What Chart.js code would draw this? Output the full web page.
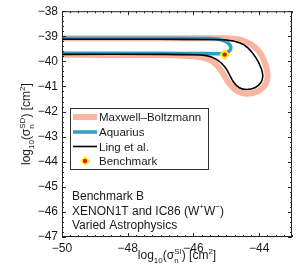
<!DOCTYPE html>
<html>
<head>
<meta charset="utf-8">
<script src="https://cdn.jsdelivr.net/npm/chart.js@4.4.1/dist/chart.umd.min.js"></script>
<style>
  html, body { margin: 0; padding: 0; background: #fff; }
</style>
</head>
<body>
<canvas id="chart" width="299" height="268"></canvas>
<script>
// Benchmark B — SD vs SI cross-section contours

const FONT = '"Liberation Sans", Arial, Helvetica, sans-serif';
Chart.defaults.font.family = FONT;
Chart.defaults.font.size = 11;
Chart.defaults.color = '#1a1a1a';

const xRange = [-50, -43];
const yRange = [-47, -38];
const xTickValues = [-50, -48, -46, -44];
const yTickValues = [-38, -39, -40, -41, -42, -43, -44, -45, -46, -47];

// Maxwell–Boltzmann contour (thick salmon)
const mbX = [-50, -47, -45.6, -45.0, -44.55, -44.25, -43.98, -43.8, -43.74, -43.8, -44.02, -44.37, -44.65, -44.9, -45.15, -45.42, -45.75, -46.3, -47, -50];
const mbY = [-39.08, -39.08, -39.08, -39.08, -39.14, -39.32, -39.65, -40.15, -40.55, -40.9, -41.18, -41.29, -41.2, -40.9, -40.38, -40.0, -39.84, -39.78, -39.75, -39.74];

// Aquarius contour (teal)
const aqX = [-50, -47, -45.6, -45.2, -45.0, -44.9, -44.86, -44.9, -45.02, -45.25, -45.6, -47, -50];
const aqY = [-39.08, -39.08, -39.09, -39.13, -39.22, -39.33, -39.46, -39.58, -39.67, -39.7, -39.69, -39.68, -39.68];

// Ling et al. contour (black)
const lingX = [-50, -47, -45.6, -45.0, -44.6, -44.35, -44.1, -43.93, -43.89, -43.95, -44.13, -44.38, -44.6, -44.78, -45.04, -45.3, -45.6, -46.2, -47, -50];
const lingY = [-39.12, -39.12, -39.13, -39.15, -39.26, -39.45, -39.85, -40.3, -40.6, -40.85, -41.05, -41.12, -41.05, -40.82, -40.22, -39.92, -39.77, -39.73, -39.72, -39.72];

// Benchmark point
const benchX = [-45.05];
const benchY = [-39.73];

const legendLabels = ['Maxwell\u2013Boltzmann', 'Aquarius', 'Ling et al.', 'Benchmark'];
const noteLines = ['Benchmark B', 'XENON1T and IC86 (W+W\u2212)', 'Varied Astrophysics'];

const pts = (xs, ys) => xs.map((x, i) => ({ x: x, y: ys[i] }));
const minus = v => String(v).replace('-', '\u2212');

const SALMON = '#f9b5a0';
const TEAL = '#2c9fc2';
const BLACK = '#000000';

// draw text made of pieces: [text, kind] kind: 0 normal, 1 sub, 2 sup, 3 stacked [sub, sup]
function richWidth(ctx, parts, size) {
  let w = 0;
  parts.forEach(p => {
    if (p[1] === 0) { ctx.font = size + 'px ' + FONT; w += ctx.measureText(p[0]).width; }
    else if (p[1] === 3) {
      ctx.font = Math.round(size * 0.7) + 'px ' + FONT;
      w += Math.max(ctx.measureText(p[0][0]).width, ctx.measureText(p[0][1]).width);
    } else { ctx.font = Math.round(size * 0.7) + 'px ' + FONT; w += ctx.measureText(p[0]).width; }
  });
  return w;
}
function drawRich(ctx, parts, x, y, size) {
  const small = Math.round(size * 0.7);
  parts.forEach(p => {
    if (p[1] === 0) {
      ctx.font = size + 'px ' + FONT; ctx.fillText(p[0], x, y); x += ctx.measureText(p[0]).width;
    } else if (p[1] === 1) {
      ctx.font = small + 'px ' + FONT; ctx.fillText(p[0], x, y + size * 0.3); x += ctx.measureText(p[0]).width;
    } else if (p[1] === 2) {
      ctx.font = small + 'px ' + FONT; ctx.fillText(p[0], x, y - size * 0.42); x += ctx.measureText(p[0]).width;
    } else {
      ctx.font = small + 'px ' + FONT;
      ctx.fillText(p[0][0], x, y + size * 0.3);
      ctx.fillText(p[0][1], x, y - size * 0.45);
      x += Math.max(ctx.measureText(p[0][0]).width, ctx.measureText(p[0][1]).width);
    }
  });
}

const decorations = {
  id: 'decorations',
  afterDraw(chart) {
    const ctx = chart.ctx;
    const a = chart.chartArea;
    const xs = chart.scales.x, ys = chart.scales.y;
    ctx.save();
    ctx.textAlign = 'left';
    ctx.textBaseline = 'alphabetic';
    ctx.fillStyle = '#1a1a1a';

    // frame
    ctx.strokeStyle = '#262626';
    ctx.lineWidth = 1;
    ctx.strokeRect(a.left + 0.5, a.top + 0.5, a.right - a.left - 1, a.bottom - a.top - 1);

    // inward ticks on all sides
    ctx.beginPath();
    for (let v = xRange[0]; v <= xRange[1] + 1e-6; v += 0.25) {
      const px = Math.round(xs.getPixelForValue(v)) + 0.5;
      const major = xTickValues.some(t => Math.abs(t - v) < 1e-6);
      const len = major ? 4 : 2;
      ctx.moveTo(px, a.bottom); ctx.lineTo(px, a.bottom - len);
      ctx.moveTo(px, a.top); ctx.lineTo(px, a.top + len);
    }
    for (let v = yRange[0]; v <= yRange[1] + 1e-6; v += 0.2) {
      const py = Math.round(ys.getPixelForValue(v)) + 0.5;
      const major = yTickValues.some(t => Math.abs(t - v) < 1e-6);
      const len = major ? 4 : 2;
      ctx.moveTo(a.left, py); ctx.lineTo(a.left + len, py);
      ctx.moveTo(a.right, py); ctx.lineTo(a.right - len, py);
    }
    ctx.stroke();

    // legend box
    const lx = 70, ly = 108, lw = 138, lh = 61;
    ctx.fillStyle = '#fff';
    ctx.fillRect(lx, ly, lw, lh);
    ctx.strokeStyle = '#333';
    ctx.strokeRect(lx + 0.5, ly + 0.5, lw, lh);
    const rows = [117, 132, 146.5, 161];
    const ds = chart.data.datasets;
    const lineSets = [ds[3], ds[2], ds[1]];
    ctx.lineCap = 'butt';
    lineSets.forEach((d, i) => {
      ctx.strokeStyle = d.borderColor;
      ctx.lineWidth = d.borderWidth;
      ctx.beginPath();
      ctx.moveTo(73, rows[i]); ctx.lineTo(97, rows[i]);
      ctx.stroke();
    });
    // benchmark marker in legend
    const mx = 85, my = rows[3];
    ctx.fillStyle = ds[0].backgroundColor;
    ctx.beginPath();
    ctx.moveTo(mx, my - 5); ctx.lineTo(mx + 5, my); ctx.lineTo(mx, my + 5); ctx.lineTo(mx - 5, my);
    ctx.closePath(); ctx.fill();
    ctx.fillStyle = ds[4].backgroundColor;
    ctx.beginPath(); ctx.arc(mx, my, 2.2, 0, Math.PI * 2); ctx.fill();

    ctx.fillStyle = '#1a1a1a';
    ctx.font = '11.5px ' + FONT;
    legendLabels.forEach((t, i) => ctx.fillText(t, 99, rows[i] + 4));

    // note text
    const noteSize = 12;
    drawRich(ctx, [[noteLines[0], 0]], 72, 199.5, noteSize);
    drawRich(ctx, [['XENON1T and IC86 (W', 0], ['+', 2], ['W', 0], ['\u2212', 2], [')', 0]], 72, 214.5, noteSize);
    drawRich(ctx, [[noteLines[2], 0]], 72, 229, noteSize);

    // axis titles
    const tSize = 12;
    const xt = [['log', 0], ['10', 1], ['(\u03c3', 0], [['n', 'SI'], 3], [') [cm', 0], ['2', 2], [']', 0]];
    const xw = richWidth(ctx, xt, tSize);
    drawRich(ctx, xt, (a.left + a.right) / 2 - xw / 2, 259, tSize);

    const yt = [['log', 0], ['10', 1], ['(\u03c3', 0], [['n', 'SD'], 3], [') [cm', 0], ['2', 2], [']', 0]];
    const yw = richWidth(ctx, yt, tSize);
    ctx.save();
    ctx.translate(30, (a.top + a.bottom) / 2);
    ctx.rotate(-Math.PI / 2);
    drawRich(ctx, yt, -yw / 2, 0, tSize);
    ctx.restore();

    ctx.restore();
  }
};

new Chart(document.getElementById('chart'), {
  type: 'scatter',
  data: {
    datasets: [
      { label: 'Benchmark', data: pts(benchX, benchY), pointStyle: 'rectRot', pointRadius: 5.5, backgroundColor: '#ffee00', borderWidth: 0, order: 1 },
      { label: 'Ling et al.', data: pts(lingX, lingY), showLine: true, borderColor: BLACK, borderWidth: 1.6, pointRadius: 0, tension: 0.4, fill: false, order: 2, clip: 0 },
      { label: 'Aquarius', data: pts(aqX, aqY), showLine: true, borderColor: TEAL, borderWidth: 3.5, pointRadius: 0, tension: 0.4, fill: false, order: 3, clip: 0 },
      { label: 'Maxwell\u2013Boltzmann', data: pts(mbX, mbY), showLine: true, borderColor: SALMON, borderWidth: 6, pointRadius: 0, tension: 0.4, fill: false, order: 4, clip: 0 },
      { label: 'Benchmark centre', data: pts(benchX, benchY), pointStyle: 'circle', pointRadius: 2.2, backgroundColor: '#e8141c', borderWidth: 0, order: 0 }
    ]
  },
  options: {
    responsive: false,
    animation: false,
    devicePixelRatio: 1,
    layout: { padding: { top: 6, right: 7, left: 0, bottom: 0 } },
    plugins: { legend: { display: false }, tooltip: { enabled: false } },
    scales: {
      x: {
        type: 'linear', min: xRange[0], max: xRange[1],
        grid: { display: false, drawTicks: false }, border: { display: false },
        afterBuildTicks: s => { s.ticks = xTickValues.map(v => ({ value: v })); },
        afterFit: s => { s.height = 31; },
        ticks: { padding: 4, font: { size: 12 }, maxRotation: 0, autoSkip: false, callback: v => minus(v) }
      },
      y: {
        type: 'linear', min: yRange[0], max: yRange[1],
        grid: { display: false, drawTicks: false }, border: { display: false },
        afterBuildTicks: s => { s.ticks = yTickValues.map(v => ({ value: v })); },
        afterFit: s => { s.width = 62; },
        ticks: { padding: 4, font: { size: 12 }, autoSkip: false, callback: v => minus(v) }
      }
    }
  },
  plugins: [decorations]
});
</script>
</body>
</html>
